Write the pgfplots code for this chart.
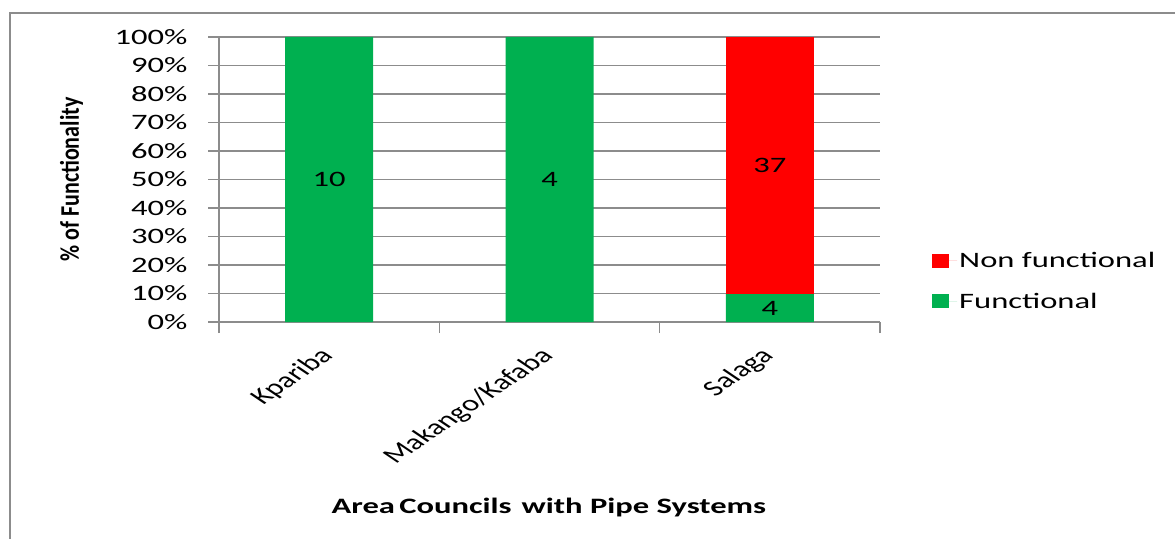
\documentclass[border=0pt]{standalone}
\usepackage{fontspec}
\setmainfont{Carlito}
\newfontfamily\widefont[FakeStretch=1.48]{Carlito}
\usepackage{graphicx}
\usepackage{pgfplots}
\usepackage{pgfplotstable}
\pgfplotsset{compat=1.18}

\definecolor{funcgreen}{HTML}{00B050}
\definecolor{nonfred}{HTML}{FF0000}
\definecolor{gridgray}{HTML}{8C8C8C}

% Pipe systems per area council: functional and non-functional counts
\pgfplotstableread{
idx func nonf flab nlab
0   10   0    10   {}
1   4    0    4    {}
2   4    37   4    37
}\pipedata

\newcommand{\wtext}{\widefont\fontsize{22}{26}\selectfont}
% slanted category names, widened after rotation like the rest of the text
\newcommand{\slant}[1]{\scalebox{1.48}[1]{\rotatebox{45}{#1}}}

\begin{document}
\begin{tikzpicture}[x=1pt,y=1pt]
\path[use as bounding box] (0,0) rectangle (1175,538);
\draw[gridgray, line width=2pt] (10,-5) -- (10,525) -- (1180,525);
\begin{axis}[
  at={(219pt,216pt)}, anchor=south west,
  scale only axis, width=661pt, height=285pt,
  ybar stacked, bar width=88pt,
  xmin=-0.5, xmax=2.5, ymin=0, ymax=100,
  axis x line*=bottom, axis y line*=left,
  axis line style={gridgray, line width=1.5pt, -},
  ytick={0,10,...,100},
  yticklabel={\pgfmathprintnumber{\tick}\%},
  /pgf/number format/assume math mode=true,
  yticklabel style={font=\wtext, anchor=east, xshift=-17pt},
  ymajorgrids,
  major grid style={gridgray, line width=1.5pt},
  tick style={gridgray, line width=1.5pt},
  tick align=outside,
  major tick length=11pt,
  xtick={-0.5,0.5,1.5,2.5},
  xticklabels={},
  extra x ticks={0,1,2},
  extra x tick labels={\slant{Kpariba}, \slant{Makango/Kafaba}, \slant{Salaga}},
  extra x tick style={major tick length=0pt,
    xticklabel style={anchor=north east, inner sep=0pt, yshift=-24pt, xshift=9pt,
      font=\fontsize{22}{26}\selectfont}},
  xlabel={Area\hspace{0.2em}Councils\hspace{0.45em}with Pipe Systems},
  xlabel style={at={(axis description cs:0.499,-0.652)}, anchor=center,
    font=\widefont\bfseries\fontsize{22}{26}\selectfont},
  ylabel={\scalebox{1}[1.22]{\% of Functionality}},
  ylabel style={at={(axis description cs:-0.223,0.5)}, anchor=center,
    rotate=0, font=\bfseries\fontsize{22}{26}\selectfont},
  legend style={at={(1.0787,0.144)}, anchor=west, draw=none, fill=none,
    font=\wtext, row sep=20pt, inner sep=0pt},
  legend cell align=left,
  reverse legend,
  legend image code/.code={\fill[#1] (0pt,-7pt) rectangle (17pt,7pt);
    \path (0pt,0pt) -- (25pt,0pt);},
  nodes near coords,
  point meta=explicit symbolic,
  every node near coord/.append style={font=\wtext, text=black, anchor=center},
]
\addplot[fill=funcgreen, draw=none]
  table[x=idx, y expr={\thisrow{func}/(\thisrow{func}+\thisrow{nonf})*100}, meta=flab]{\pipedata};
\addlegendentry{Functional}
\addplot[fill=nonfred, draw=none]
  table[x=idx, y expr={\thisrow{nonf}/(\thisrow{func}+\thisrow{nonf})*100}, meta=nlab]{\pipedata};
\addlegendentry{Non functional}
\end{axis}
\end{tikzpicture}
\end{document}
